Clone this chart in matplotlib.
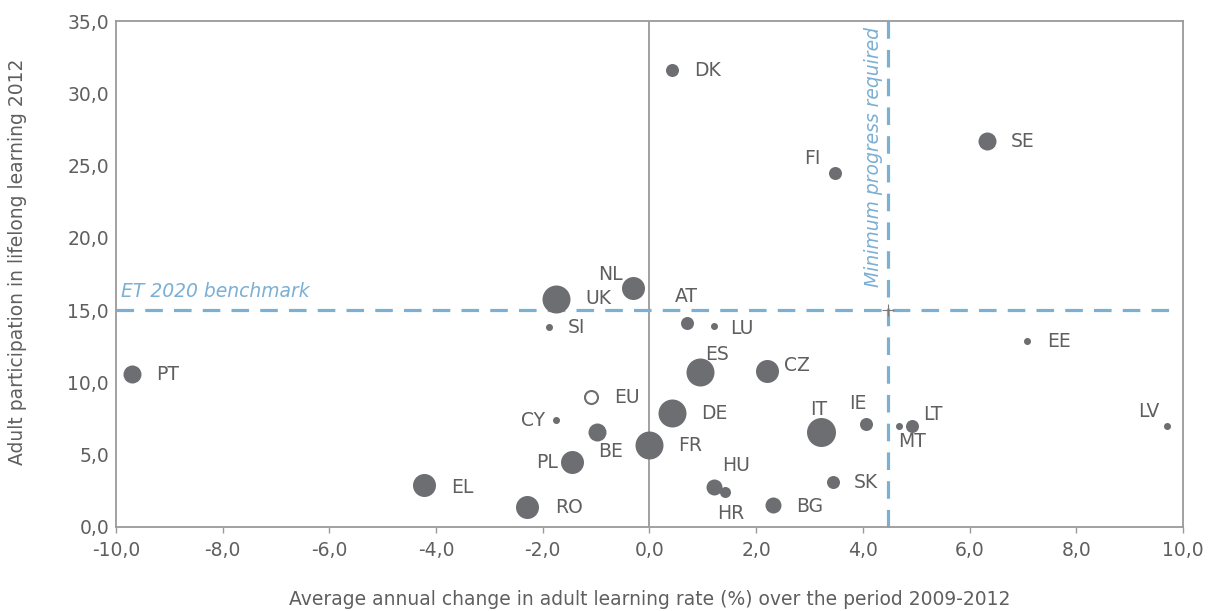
import numpy as np
import matplotlib
matplotlib.use("Agg")
import matplotlib.pyplot as plt
from matplotlib.ticker import FuncFormatter

# country codes, average annual change 2009-2012 (%), participation 2012 (%)
countries = ["DK", "FI", "SE", "NL", "UK", "AT", "LU", "SI", "EE", "PT",
             "ES", "CZ", "EU", "DE", "CY", "IT", "IE", "MT", "LT", "LV",
             "BE", "FR", "PL", "SK", "EL", "HU", "HR", "RO", "BG"]
change = [0.42, 3.48, 6.33, -0.31, -1.75, 0.70, 1.21, -1.88, 7.08, -9.70,
          0.94, 2.20, -1.10, 0.42, -1.75, 3.22, 4.06, 4.68, 4.92, 9.70,
          -0.99, 0.00, -1.45, 3.44, -4.23, 1.21, 1.42, -2.29, 2.31]
participation = [31.6, 24.5, 26.7, 16.5, 15.8, 14.1, 13.9, 13.8, 12.9, 10.6,
                 10.7, 10.8, 9.0, 7.9, 7.4, 6.6, 7.1, 7.0, 7.0, 7.0,
                 6.6, 5.7, 4.5, 3.1, 2.9, 2.8, 2.4, 1.4, 1.5]
# relative bubble size (diameter class)
bubble = [13, 13, 18, 23, 28, 13, 7, 7, 7, 18,
          28, 23, 13, 28, 7, 29, 13, 7, 13, 7,
          18, 28, 23, 13, 23, 16, 11, 23, 16]

benchmark = 15.0
min_progress = 4.47

# label offsets in pixels (dx, dy) and alignment
offsets = {
    "DK": (22, 0, "left"), "FI": (-15, 14, "right"), "SE": (24, 0, "left"),
    "NL": (-10, 14, "right"), "UK": (29, 0, "left"), "AT": (0, 27, "center"),
    "LU": (16, -2, "left"), "SI": (19, 0, "left"), "EE": (20, -1, "left"),
    "PT": (24, -1, "left"), "ES": (17, 18, "center"), "CZ": (17, 5, "left"),
    "EU": (23, -1, "left"), "DE": (29, -1, "left"), "CY": (-11, 0, "right"),
    "IT": (-3, 22, "center"), "IE": (-8, 21, "center"), "MT": (13, -16, "center"),
    "LT": (11, 11, "left"), "LV": (-7, 14, "right"), "BE": (1, -20, "left"),
    "FR": (29, -1, "left"), "PL": (-14, -1, "right"), "SK": (21, 0, "left"),
    "EL": (27, -2, "left"), "HU": (8, 21, "left"), "HR": (-8, -21, "left"),
    "RO": (28, -1, "left"), "BG": (23, -1, "left"),
}

grey = "#6d6e71"
text_grey = "#5f5f5f"
spine_grey = "#9a9a9a"
blue = "#7bafd4"
fs = 13.5

fig = plt.figure(figsize=(12.08, 6.11), dpi=100)
ax = fig.add_axes([0.096, 0.1375, 0.8833, 0.8281])

ax.axvline(0, color=spine_grey, lw=1.3, zorder=1)
ax.plot([-10, 9.88], [benchmark, benchmark], color=blue, lw=2.3,
        dashes=(5.5, 3.5), zorder=2, clip_on=False)
ax.plot([min_progress, min_progress], [0, 35], color=blue, lw=2.3,
        dashes=(5.5, 3.5), zorder=2, clip_on=False)
ax.plot([min_progress], [benchmark], marker="+", ms=9, mew=0.8,
        color="#7a7a7a", zorder=3)

for c, x, y, d in zip(countries, change, participation, bubble):
    s = (d * 0.72) ** 2
    if c == "EU":
        ax.scatter(x, y, s=s, facecolor="white", edgecolor=grey, lw=1.5, zorder=4)
    else:
        ax.scatter(x, y, s=s, color=grey, lw=0, zorder=4)
    dx, dy, ha = offsets[c]
    ax.annotate(c, (x, y), xytext=(dx * 0.72, dy * 0.72),
                textcoords="offset points", ha=ha, va="center",
                fontsize=fs, color=text_grey, zorder=5)

ax.text(-9.9, benchmark + 0.6, "ET 2020 benchmark", color=blue,
        style="italic", fontsize=fs, ha="left", va="bottom")
ax.text(min_progress - 0.1, 34.6, "Minimum progress required", color=blue,
        style="italic", fontsize=fs, rotation=90, ha="right", va="top")

ax.set_xlim(-10, 10)
ax.set_ylim(0, 35)
ax.set_xticks(np.arange(-10, 10.1, 2))
ax.set_yticks(np.arange(0, 35.1, 5))
fmt = FuncFormatter(lambda v, p: f"{v:.1f}".replace(".", ","))
ax.xaxis.set_major_formatter(fmt)
ax.yaxis.set_major_formatter(fmt)
ax.tick_params(axis="x", length=4, width=1, color=spine_grey,
               labelsize=fs, labelcolor=text_grey, pad=6)
ax.tick_params(axis="y", length=0, labelsize=fs, labelcolor=text_grey, pad=5)
for sp in ax.spines.values():
    sp.set_color(spine_grey)
    sp.set_linewidth(1.3)

ax.set_xlabel("Average annual change in adult learning rate (%) over the period 2009-2012",
              fontsize=fs, color=text_grey, labelpad=22)
ax.set_ylabel("Adult participation in lifelong learning 2012",
              fontsize=fs, color=text_grey)
ax.yaxis.set_label_coords(-0.083, 0.524)

fig.savefig("out.png", dpi=100)
